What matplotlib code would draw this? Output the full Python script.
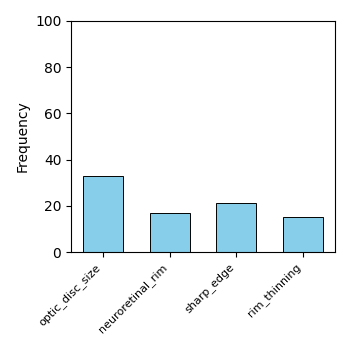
import numpy as np
import matplotlib
matplotlib.use('Agg')
import matplotlib.pyplot as plt

# 特徴ごとの頻度
features = ['optic_disc_size', 'neuroretinal_rim', 'sharp_edge', 'rim_thinning']
frequency = [33, 17, 21, 15]

fig, ax = plt.subplots(figsize=(3.5, 3.5), dpi=100)
fig.subplots_adjust(left=0.203, right=0.957, bottom=0.28, top=0.94)

x = np.arange(len(features))
ax.bar(x, frequency, width=0.6, color='skyblue', edgecolor='black', linewidth=0.7)
ax.set_xticks(x)
ax.set_xticklabels(features, rotation=45, ha='right', fontsize=8)
ax.set_ylim(0, 100)
ax.set_ylabel('Frequency')

fig.savefig('out.png', dpi=100)
